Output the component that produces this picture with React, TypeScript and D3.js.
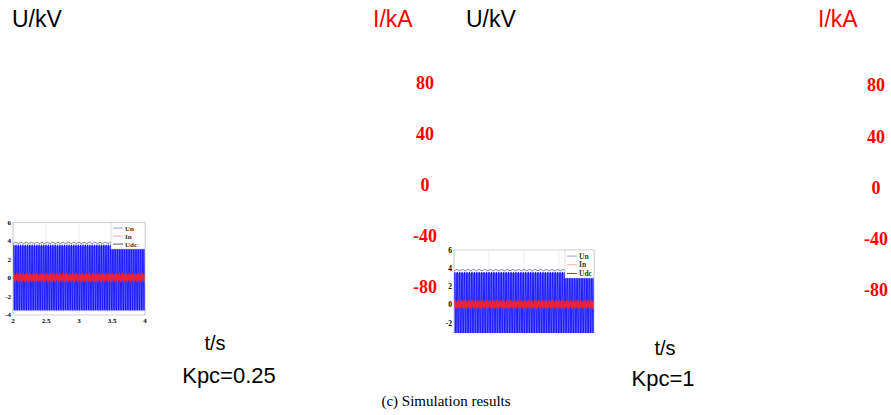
import React from 'react'
import * as d3 from 'd3'

// values
const yTicksLeft = [-4, -2, 0, 2, 4, 6]
const yTicksRight = [-2, 0, 2, 4, 6]
const xTicks = [2, 2.5, 3, 3.5, 4]
const currentTicks = [80, 40, 0, -40, -80]
const legendLabels = ['Un', 'In', 'Udc']
// one period of each trace, repeated over the window
const unCycle = [0, 3.4, 3.6, 0, -3.4, -3.5, 0]
const inCycle = [0.1, 0.55, -0.25, 0.4, -0.45, 0.3, -0.35, 0.1]
const udcCycle = [3.72, 3.8, 3.87, 3.8, 3.72]
const unPeriod = 0.035
const inPeriod = 0.05
const udcPeriod = 0.08
const timeWindow = [2, 4]

const SERIF = '"Liberation Serif", "Times New Roman", serif'
const SANS = '"Liberation Sans", Arial, sans-serif'
const colors = { Un: '#0000ff', In: '#ff2020', Udc: '#333' }

function repeatCycle (cycle: number[], period: number) {
  const pts: [number, number][] = []
  const n = cycle.length - 1
  for (let t0 = timeWindow[0]; t0 < timeWindow[1]; t0 += period) {
    cycle.forEach((v, j) => {
      if (j === 0 && pts.length) return
      pts.push([t0 + (j * period) / n, v])
    })
  }
  return pts
}

type PlotProps = {
  id: string
  left: number
  right: number
  top: number
  bottom: number
  yDomain: [number, number]
  yTicks: number[]
  showX: boolean
  font: number
  legend: { x: number, y: number, w: number, h: number, step: number }
}

function SmallPlot ({ id, left, right, top, bottom, yDomain, yTicks, showX, font, legend }: PlotProps) {
  const x = d3.scaleLinear().domain(timeWindow).range([left, right])
  const y = d3.scaleLinear().domain(yDomain).range([bottom, top])
  const line = d3.line<[number, number]>().x(d => x(d[0])).y(d => y(d[1]))
  const un = line(repeatCycle(unCycle, unPeriod)) || ''
  const inn = line(repeatCycle(inCycle, inPeriod)) || ''
  const udc = line(repeatCycle(udcCycle, udcPeriod)) || ''
  return (
    <g>
      <defs>
        <clipPath id={id}>
          <rect x={left} y={top} width={right - left} height={bottom - top} />
        </clipPath>
      </defs>
      <rect x={left} y={top} width={right - left} height={bottom - top} fill="#fff" />
      {xTicks.map(t => (
        <line key={'gx' + t} x1={x(t)} x2={x(t)} y1={top} y2={bottom} stroke="#e2e2e2" strokeWidth={0.6} />
      ))}
      <g clipPath={`url(#${id})`}>
        <rect x={left} y={y(3.5)} width={right - left} height={y(-3.5) - y(3.5)} fill="#7373ff" />
        <path d={un} fill="none" stroke={colors.Un} strokeWidth={0.7} />
        <path d={inn} fill="none" stroke={colors.In} strokeWidth={1.3} opacity={0.9} />
        <path d={udc} fill="none" stroke={colors.Udc} strokeWidth={0.6} />
      </g>
      <path
        d={showX
          ? `M${left},${top}H${right}V${bottom}H${left}Z`
          : `M${left},${bottom}V${top}H${right}V${bottom}`}
        fill="none" stroke="#b5b5b5" strokeWidth={0.6} />
      {yTicks.map(t => (
        <text key={'y' + t} x={left - 2} y={y(t)} dy="0.35em" textAnchor="end"
          fontFamily={SERIF} fontWeight="bold" fontSize={font}>{t}</text>
      ))}
      {showX && xTicks.map(t => (
        <text key={'x' + t} x={x(t)} y={bottom + 2} dy="0.8em" textAnchor="middle"
          fontFamily={SERIF} fontWeight="bold" fontSize={font}>{t}</text>
      ))}
      <rect x={legend.x} y={legend.y} width={legend.w} height={legend.h}
        fill="#fff" stroke="#bbb" strokeWidth={0.5} />
      {legendLabels.map((name, i) => {
        const ly = legend.y + legend.step * (i + 0.7)
        return (
          <g key={name}>
            <line x1={legend.x + 2} x2={legend.x + 12} y1={ly} y2={ly}
              stroke={(colors as any)[name]} strokeWidth={0.8} opacity={name === 'Udc' ? 1 : 0.5} />
            <text x={legend.x + 14} y={ly} dy="0.35em" fontFamily={SERIF} fontWeight="bold"
              fontSize={font} fill="#333">{name}</text>
          </g>
        )
      })}
    </g>
  )
}

export default function App () {
  const iLeft = d3.scaleLinear().domain([-80, 80]).range([287, 83])
  const iRight = d3.scaleLinear().domain([-80, 80]).range([290, 85])
  return (
    <svg width={891} height={415} viewBox="0 0 891 415"
      style={{ position: 'absolute', left: 0, top: 0, background: '#fff' }}>
      <text x={12} y={27} fontFamily={SANS} fontSize={23}>U/kV</text>
      <text x={373} y={27} fontFamily={SANS} fontSize={23} fill="#ff0000">I/kA</text>
      <text x={466} y={27} fontFamily={SANS} fontSize={23}>U/kV</text>
      <text x={818} y={27} fontFamily={SANS} fontSize={23} fill="#ff0000">I/kA</text>

      {currentTicks.map(t => (
        <text key={'l' + t} x={425} y={iLeft(t)} dy="0.35em" textAnchor="middle"
          fontFamily={SERIF} fontWeight="bold" fontSize={18} fill="#ff0000">{t}</text>
      ))}
      {currentTicks.map(t => (
        <text key={'r' + t} x={876} y={iRight(t)} dy="0.35em" textAnchor="middle"
          fontFamily={SERIF} fontWeight="bold" fontSize={18} fill="#ff0000">{t}</text>
      ))}

      <SmallPlot id="clipA" left={13} right={145} top={222.5} bottom={315}
        yDomain={[-4, 6]} yTicks={yTicksLeft} showX font={7}
        legend={{ x: 111, y: 222.5, w: 34, h: 26.5, step: 8 }} />
      <SmallPlot id="clipB" left={454} right={594} top={250} bottom={333}
        yDomain={[-3.1, 6]} yTicks={yTicksRight} showX={false} font={7.5}
        legend={{ x: 565, y: 250, w: 29, h: 28, step: 8.7 }} />

      <text x={215} y={350} textAnchor="middle" fontFamily={SANS} fontSize={20}>t/s</text>
      <text x={229} y={383} textAnchor="middle" fontFamily={SANS} fontSize={22}>Kpc=0.25</text>
      <text x={665} y={355} textAnchor="middle" fontFamily={SANS} fontSize={20}>t/s</text>
      <text x={663} y={386} textAnchor="middle" fontFamily={SANS} fontSize={22}>Kpc=1</text>

      <text x={446} y={406} textAnchor="middle" fontFamily={SERIF} fontSize={15}>(c) Simulation results</text>
    </svg>
  )
}
